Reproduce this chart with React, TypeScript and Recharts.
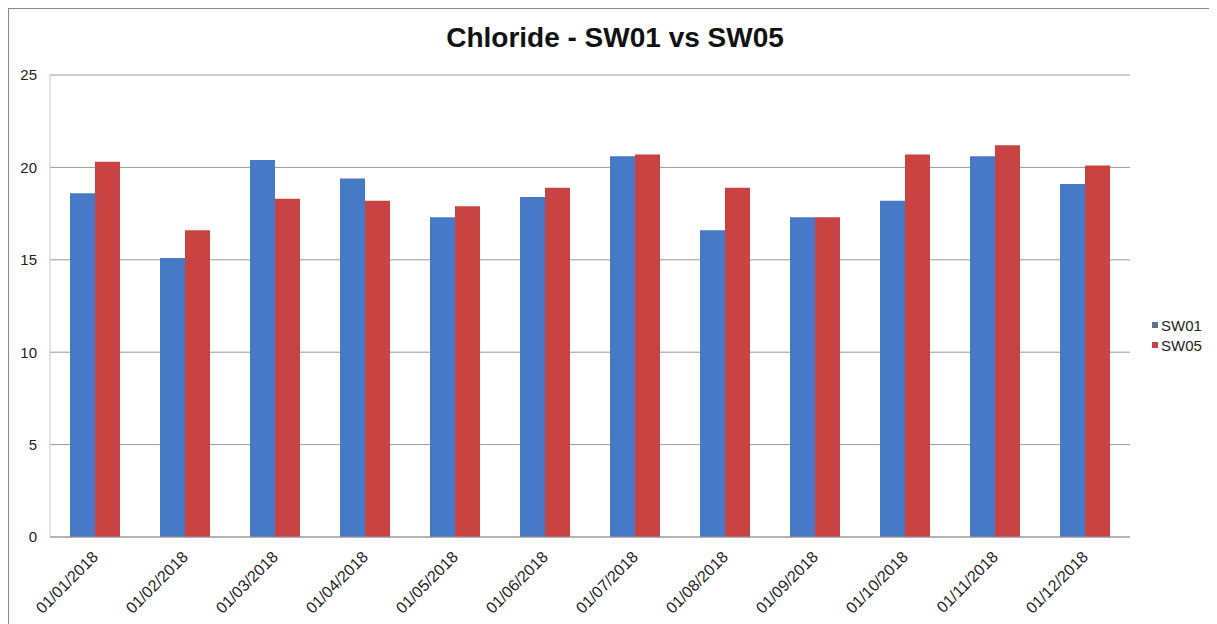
import { BarChart, Bar, XAxis, YAxis, CartesianGrid, Legend } from 'recharts';

// monthly chloride readings
const months = [
  '01/01/2018', '01/02/2018', '01/03/2018', '01/04/2018', '01/05/2018', '01/06/2018',
  '01/07/2018', '01/08/2018', '01/09/2018', '01/10/2018', '01/11/2018', '01/12/2018',
];
const sw01 = [18.6, 15.1, 20.4, 19.4, 17.3, 18.4, 20.6, 16.6, 17.3, 18.2, 20.6, 19.1];
const sw05 = [20.3, 16.6, 18.3, 18.2, 17.9, 18.9, 20.7, 18.9, 17.3, 20.7, 21.2, 20.1];
const yTicks = [0, 5, 10, 15, 20, 25];

const BLUE = '#4679c6';
const RED = '#c94343';
const FONT = '"Liberation Sans", Arial, sans-serif';

const data = months.map((m, i) => ({ month: m, SW01: sw01[i], SW05: sw05[i] }));

function DateTick(props: any) {
  const { x, y, payload } = props;
  return (
    <g transform={`translate(${x + 4},${y + 13})`}>
      <text x={0} y={0} textAnchor="end" transform="rotate(-45)" fill="#222" fontSize={16} fontFamily={FONT}>
        {payload.value}
      </text>
    </g>
  );
}

function SideLegend() {
  const items = [
    { name: 'SW01', color: '#5d6f93' },
    { name: 'SW05', color: RED },
  ];
  return (
    <div style={{ fontFamily: FONT, fontSize: 15, color: '#222' }}>
      {items.map(it => (
        <div key={it.name} style={{ display: 'flex', alignItems: 'center', height: 20 }}>
          <span style={{ width: 6, height: 6, background: it.color, marginRight: 3, display: 'inline-block' }} />
          {it.name}
        </div>
      ))}
    </div>
  );
}

export default function App() {
  return (
    <div style={{ width: 1208, height: 615, borderTop: '1px solid #8a8a8a', borderLeft: '1px solid #8a8a8a', position: 'relative', background: '#fff' }}>
      <div style={{ position: 'absolute', top: 13, left: 0, width: 1212, textAlign: 'center', fontFamily: FONT, fontWeight: 'bold', fontSize: 28, color: '#111' }}>
        Chloride - SW01 vs SW05
      </div>
      <BarChart
        width={1208}
        height={615}
        data={data}
        margin={{ top: 66, right: 87, bottom: 7, left: 0 }}
        barGap={0}
        barCategoryGap={20}
      >
        <CartesianGrid vertical={false} stroke="#9a9a9a" />
        <XAxis
          dataKey="month"
          interval={0}
          height={80}
          tickLine={false}
          axisLine={{ stroke: '#9a9a9a' }}
          tick={<DateTick />}
        />
        <YAxis
          domain={[0, 25]}
          ticks={yTicks}
          width={41}
          tickLine={false}
          tickSize={0}
          tickMargin={13}
          axisLine={{ stroke: '#c8c8c8' }}
          tick={{ fill: '#222', fontSize: 15, fontFamily: FONT }}
        />
        <Legend
          layout="horizontal"
          verticalAlign="middle"
          align="center"
          content={<SideLegend />}
          wrapperStyle={{ left: 1143, top: 306, width: 60 }}
        />
        <Bar dataKey="SW01" fill={BLUE} isAnimationActive={false} />
        <Bar dataKey="SW05" fill={RED} isAnimationActive={false} />
      </BarChart>
    </div>
  );
}
